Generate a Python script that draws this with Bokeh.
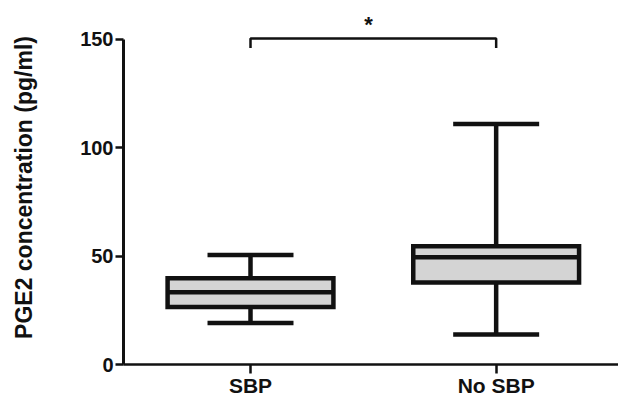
from bokeh.plotting import figure
from bokeh.models import Range1d, FixedTicker
from bokeh.embed import file_html
from bokeh.resources import INLINE
from bokeh.core.properties import value

categories = ["SBP", "No SBP"]
lower = [19.1, 13.8]
q1 = [26.5, 37.8]
median = [33.3, 49.5]
q3 = [39.8, 54.6]
upper = [50.5, 110.9]
y_ticks = [0, 50, 100, 150]
y_title = "PGE2 concentration (pg/ml)"
sig_label = "*"
bracket_top = 150.4
bracket_leg = 146.0

pos = [i + 1 for i in range(len(categories))]
box_w = 0.675
cap_w = 0.35
lw = 4.5
FONT = "Liberation Sans"

p = figure(width=618, height=399, output_backend="svg", toolbar_location=None,
           x_range=Range1d(0.483, 2.498), y_range=Range1d(0, 163.3),
           min_border_left=123, min_border_right=0, min_border_top=10, min_border_bottom=33)
p.outline_line_color = None
p.xgrid.visible = False
p.ygrid.visible = False
p.background_fill_color = "white"
p.border_fill_color = "white"

# whiskers (stems)
p.segment(x0=pos, x1=pos, y0=lower, y1=q1, line_color="#111111", line_width=lw)
p.segment(x0=pos, x1=pos, y0=q3, y1=upper, line_color="#111111", line_width=lw)
# caps
p.segment(x0=[x - cap_w / 2 for x in pos], x1=[x + cap_w / 2 for x in pos], y0=lower, y1=lower,
          line_color="#111111", line_width=lw)
p.segment(x0=[x - cap_w / 2 for x in pos], x1=[x + cap_w / 2 for x in pos], y0=upper, y1=upper,
          line_color="#111111", line_width=lw)
# boxes
p.vbar(x=pos, width=box_w, bottom=q1, top=q3, fill_color="#d4d4d4",
       line_color="#111111", line_width=lw, line_join="miter")
# medians
p.segment(x0=[x - box_w / 2 for x in pos], x1=[x + box_w / 2 for x in pos], y0=median, y1=median,
          line_color="#111111", line_width=lw)

# significance bracket
p.line(x=[pos[0], pos[0], pos[1], pos[1]], y=[bracket_leg, bracket_top, bracket_top, bracket_leg],
       line_color="#111111", line_width=2.5)
p.text(x=[(pos[0] + pos[1]) / 2 - 0.02], y=[157.0], text=[sig_label], text_align="center",
       text_baseline="alphabetic", text_font=value(FONT), text_font_size="22px",
       text_font_style="bold", text_color="#111111")

# axes
p.xaxis.ticker = FixedTicker(ticks=pos)
p.xaxis.major_label_overrides = {x: c for x, c in zip(pos, categories)}
p.xaxis.minor_tick_line_color = None
p.xaxis.axis_line_width = 2.5
p.xaxis.major_tick_line_width = 2.5
p.xaxis.major_tick_out = 9
p.xaxis.major_tick_in = 0
p.xaxis.major_label_standoff = 0
p.xaxis.major_label_text_font = FONT
p.xaxis.major_label_text_font_size = "21px"
p.xaxis.major_label_text_font_style = "bold"
p.xaxis.major_label_text_color = "#111111"
p.xaxis.axis_line_color = "#111111"
p.xaxis.major_tick_line_color = "#111111"

p.yaxis.ticker = FixedTicker(ticks=y_ticks)
p.yaxis.bounds = (y_ticks[0], y_ticks[-1])
p.yaxis.minor_tick_line_color = None
p.yaxis.axis_line_width = 3
p.yaxis.major_tick_line_width = 2.5
p.yaxis.major_tick_out = 8
p.yaxis.major_tick_in = 0
p.yaxis.major_label_standoff = 2
p.yaxis.major_label_text_font = FONT
p.yaxis.major_label_text_font_size = "20px"
p.yaxis.major_label_text_font_style = "bold"
p.yaxis.major_label_text_color = "#111111"
p.yaxis.axis_line_color = "#111111"
p.yaxis.major_tick_line_color = "#111111"
p.yaxis.axis_label = y_title
p.yaxis.axis_label_text_font = FONT
p.yaxis.axis_label_text_font_size = "23px"
p.yaxis.axis_label_text_font_style = "bold"
p.yaxis.axis_label_text_color = "#111111"
p.yaxis.axis_label_standoff = 40

open("out.html", "w").write(file_html(p, INLINE))
